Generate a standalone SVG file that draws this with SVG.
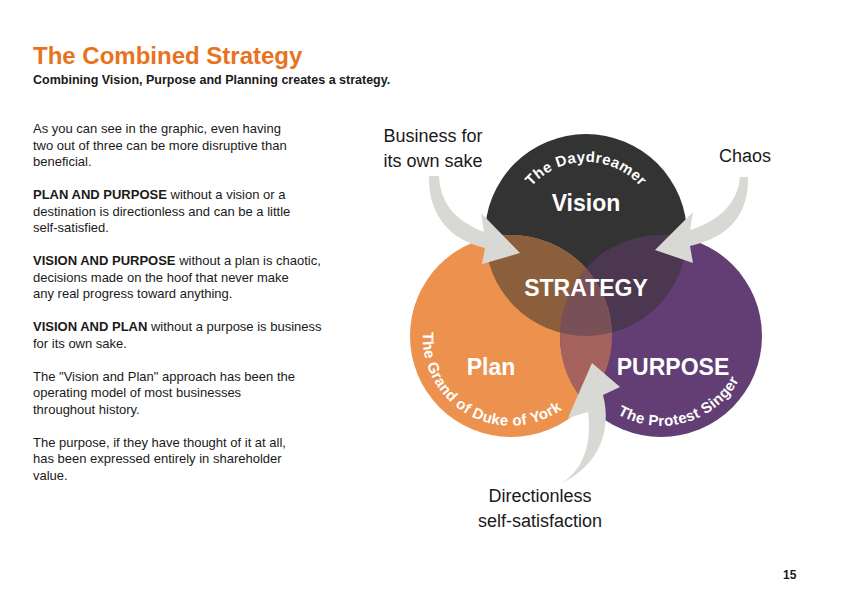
<svg xmlns="http://www.w3.org/2000/svg" xmlns:xlink="http://www.w3.org/1999/xlink" width="842" height="596" viewBox="0 0 842 596">
<style>
text{font-family:"Liberation Sans",Arial,sans-serif}
.body{font-size:13px;fill:#1a1a1a}
.b{font-weight:bold}
.lab{font-size:18px;fill:#1a1a1a;text-anchor:middle}
.big{font-size:23px;font-weight:bold;fill:#fff;text-anchor:middle}
.arc{font-size:15px;font-weight:bold;fill:#fff;letter-spacing:0.4px}
.arrow{fill:#d8d8d4}
</style>
<defs>
<clipPath id="cV"><circle cx="586" cy="235" r="101"/></clipPath>
<clipPath id="cP"><circle cx="511" cy="336" r="101"/></clipPath>
<clipPath id="cU"><circle cx="661" cy="336" r="101"/></clipPath>
<path id="pV" d="M513,235 A73,73 0 0 1 659,235"/>
<path id="pP" d="M423,332 A88,88 0 0 0 591,374"/>
<path id="pU" d="M590,390 A89,89 0 0 0 750,345"/>
</defs>
<rect width="842" height="596" fill="#fff"/>
<text x="33" y="64" font-size="24" font-weight="bold" fill="#e8731e">The Combined Strategy</text>
<text x="33" y="84" font-size="12.5" font-weight="bold" fill="#1a1a1a">Combining Vision, Purpose and Planning creates a strategy.</text>
<g class="body">
<text x="33" y="133">As you can see in the graphic, even having</text>
<text x="33" y="150">two out of three can be more disruptive than</text>
<text x="33" y="166">beneficial.</text>
<text x="33" y="199"><tspan class="b">PLAN AND PURPOSE</tspan> without a vision or a</text>
<text x="33" y="216">destination is directionless and can be a little</text>
<text x="33" y="232">self-satisfied.</text>
<text x="33" y="265"><tspan class="b">VISION AND PURPOSE</tspan> without a plan is chaotic,</text>
<text x="33" y="282">decisions made on the hoof that never make</text>
<text x="33" y="298">any real progress toward anything.</text>
<text x="33" y="331"><tspan class="b">VISION AND PLAN</tspan> without a purpose is business</text>
<text x="33" y="348">for its own sake.</text>
<text x="33" y="381">The "Vision and Plan" approach has been the</text>
<text x="33" y="397">operating model of most businesses</text>
<text x="33" y="414">throughout history.</text>
<text x="33" y="447">The purpose, if they have thought of it at all,</text>
<text x="33" y="463">has been expressed entirely in shareholder</text>
<text x="33" y="480">value.</text>
</g>
<g id="vision"><circle cx="586" cy="235" r="101" fill="#333333"/></g>
<g id="plan"><circle cx="511" cy="336" r="101" fill="#ec914e"/></g>
<g id="purpose"><circle cx="661" cy="336" r="101" fill="#623e74"/></g>
<g id="overlaps">
<circle cx="511" cy="336" r="101" fill="#8c5f3c" clip-path="url(#cV)"/>
<circle cx="661" cy="336" r="101" fill="#4b3750" clip-path="url(#cV)"/>
<circle cx="661" cy="336" r="101" fill="#a6625c" clip-path="url(#cP)"/>
<g clip-path="url(#cV)"><circle cx="661" cy="336" r="101" fill="#7a5057" clip-path="url(#cP)"/></g>
</g>
<g id="connectors">
<path class="arrow" d="M429,176 C428,215 450,240 485,248 L482,264 L520,253 L481,213 L484,232 C458,222 440,205 439,176 Z"/>
<path class="arrow" d="M748,177 C749,215 728,238 690,246 L693,263 L655,250 L693,212 L690,230 C716,222 738,205 740,177 Z"/>
<path class="arrow" d="M560,484 C585,470 592,440 588,412 L568,418 L592,363 L620,387 L603,395 C612,430 600,465 560,484 Z"/>
</g>
<g id="labels">
<text class="arc"><textPath href="#pV" startOffset="50%" text-anchor="middle">The Daydreamer</textPath></text>
<text class="arc"><textPath href="#pP" startOffset="0">The Grand of Duke of York</textPath></text>
<text class="arc"><textPath href="#pU" startOffset="50%" text-anchor="middle">The Protest Singer</textPath></text>
<text class="big" x="586" y="211">Vision</text>
<text class="big" x="586" y="296" font-size="29">STRATEGY</text>
<text class="big" x="491" y="375">Plan</text>
<text class="big" x="673" y="375">PURPOSE</text>
<text class="lab" x="433" y="142">Business for</text>
<text class="lab" x="433" y="167">its own sake</text>
<text class="lab" x="745" y="162">Chaos</text>
<text class="lab" x="540" y="502">Directionless</text>
<text class="lab" x="540" y="527">self-satisfaction</text>
</g>
<text x="783" y="579" font-size="12" font-weight="bold" fill="#1a1a1a">15</text>
</svg>
